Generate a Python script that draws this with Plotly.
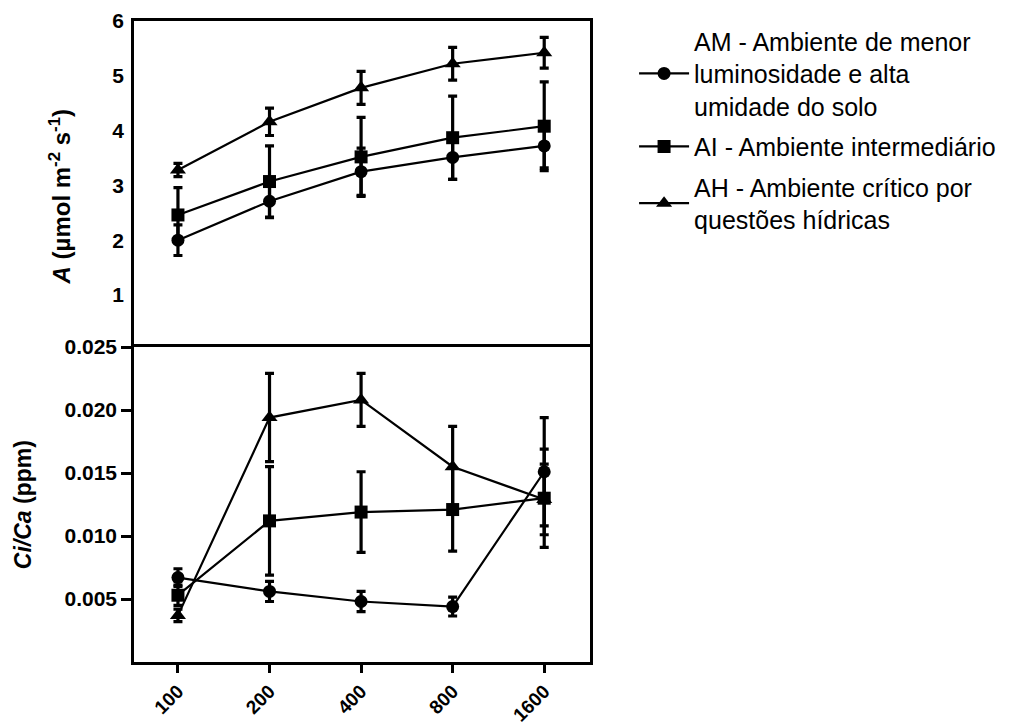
import plotly.graph_objects as go

# Light intensity levels (x categories)
doses = ["100", "200", "400", "800", "1600"]

# Net photosynthesis A (µmol m-2 s-1): means and errors per environment
a_am = [2.00, 2.71, 3.25, 3.51, 3.72]
a_am_err = [0.28, 0.30, 0.43, 0.40, 0.40]
a_ai = [2.46, 3.07, 3.52, 3.87, 4.08]
a_ai_err = [0.50, 0.65, 0.72, 0.76, 0.81]
a_ah = [3.28, 4.16, 4.78, 5.22, 5.42]
a_ah_err = [0.12, 0.25, 0.30, 0.30, 0.28]

# Ci/Ca ratio (ppm): means and errors per environment
c_am = [0.0067, 0.0056, 0.0048, 0.0044, 0.0151]
c_am_err = [0.0007, 0.0008, 0.0008, 0.00075, 0.0043]
c_ai = [0.0053, 0.0112, 0.0119, 0.0121, 0.0130]
c_ai_err = [0.0008, 0.0043, 0.0032, 0.0033, 0.0039]
c_ah = [0.0037, 0.0194, 0.0208, 0.0155, 0.0129]
c_ah_err = [0.0005, 0.0035, 0.0021, 0.0032, 0.0028]

names = [
    "AM - Ambiente de menor<br>luminosidade e alta<br>umidade do solo",
    "AI - Ambiente intermediário",
    "AH - Ambiente crítico por<br>questões hídricas",
]
groups = ["AM", "AI", "AH"]
symbols = ["circle", "square", "triangle-up"]
marker_sizes = [13, 13, 14]

top_series = [(a_am, a_am_err), (a_ai, a_ai_err), (a_ah, a_ah_err)]
bottom_series = [(c_am, c_am_err), (c_ai, c_ai_err), (c_ah, c_ah_err)]

FONT = "Liberation Sans, Arial, sans-serif"

fig = go.Figure()

for (vals, err), name, grp, sym, ms in zip(top_series, names, groups, symbols, marker_sizes):
    fig.add_trace(go.Scatter(
        x=doses, y=vals, name=name, legendgroup=grp, mode="lines+markers",
        line=dict(color="black", width=2.2),
        marker=dict(symbol=sym, size=ms, color="black"),
        error_y=dict(type="data", array=err, color="black", thickness=3.2, width=4.5),
        xaxis="x", yaxis="y", showlegend=True,
    ))

for (vals, err), name, grp, sym, ms in zip(bottom_series, names, groups, symbols, marker_sizes):
    fig.add_trace(go.Scatter(
        x=doses, y=vals, name=name, legendgroup=grp, mode="lines+markers",
        line=dict(color="black", width=2.2),
        marker=dict(symbol=sym, size=ms, color="black"),
        error_y=dict(type="data", array=err, color="black", thickness=3.2, width=4.5),
        xaxis="x2", yaxis="y2", showlegend=False,
    ))

split = 0.4914
x_range = [-0.48, 4.5]
base_axis = dict(showline=True, linecolor="black", linewidth=2.5,
                 showgrid=False, zeroline=False, automargin=False)
tick_font = dict(family=FONT, size=21, color="black", weight="bold")

fig.update_layout(
    width=1026, height=726,
    margin=dict(l=134, r=436, t=21, b=64),
    paper_bgcolor="white", plot_bgcolor="white",
    font=dict(family=FONT, color="black"),
    # top panel: only its upper border comes from the x axis; the divider is
    # drawn by the lower panel's mirrored axis line
    xaxis=dict(domain=[0, 1], anchor="y", side="top", range=x_range, type="category",
               showticklabels=False, ticks="", mirror=False, **base_axis),
    yaxis=dict(domain=[split, 1], anchor="x", range=[0.05, 6],
               tickvals=[1, 2, 3, 4, 5, 6], ticks="", tickfont=tick_font,
               ticklabelstandoff=3, mirror=True, **base_axis),
    xaxis2=dict(domain=[0, 1], anchor="y2", range=x_range, type="category",
                ticks="outside", ticklen=8, tickwidth=2.5, tickcolor="black",
                tickangle=-45, tickfont=dict(family=FONT, size=19, color="black", weight="bold"),
                mirror=True, **base_axis),
    yaxis2=dict(domain=[0, split], anchor="x2", range=[0, 0.025],
                tickvals=[0.005, 0.010, 0.015, 0.020, 0.025],
                ticktext=["0.005", "0.010", "0.015", "0.020", "0.025"],
                ticks="outside", ticklen=10, tickwidth=2.5, tickcolor="black",
                tickfont=tick_font, mirror=True, **base_axis),
    legend=dict(
        xref="container", yref="container", x=0.618, y=0.975,
        xanchor="left", yanchor="top",
        font=dict(family=FONT, size=25, color="black"),
        itemwidth=50, tracegroupgap=5, bgcolor="rgba(0,0,0,0)",
    ),
    annotations=[
        dict(text="<b><i>A</i> (µmol m<sup>-2</sup> s<sup>-1</sup>)</b>",
             xref="paper", yref="paper", x=-0.162, y=0.725,
             textangle=-90, showarrow=False, xanchor="center", yanchor="middle",
             font=dict(family=FONT, size=24, color="black")),
        dict(text="<b><i>Ci/Ca</i> (ppm)</b>",
             xref="paper", yref="paper", x=-0.243, y=0.245,
             textangle=-90, showarrow=False, xanchor="center", yanchor="middle",
             font=dict(family=FONT, size=23, color="black")),
    ],
)

fig.write_html("out.html")
